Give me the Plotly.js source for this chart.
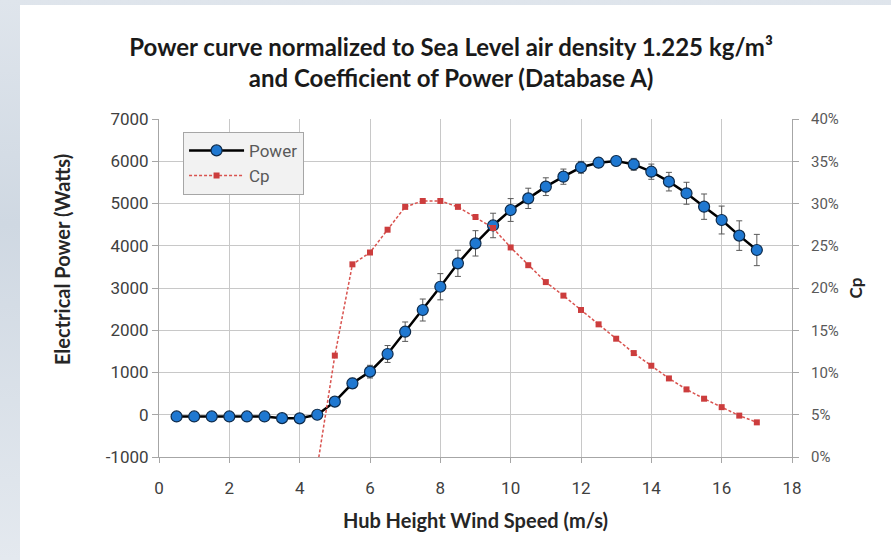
<!DOCTYPE html>
<html>
<head>
<meta charset="utf-8">
<script src="https://cdn.plot.ly/plotly-3.0.1.min.js"></script>
<style>
  html, body { margin: 0; padding: 0; width: 891px; height: 560px; overflow: hidden; }
  body { background: linear-gradient(180deg, #dfe5ec 0%, #cfd8e2 40%, #e4e9ef 100%); position: relative; }
  #chart { position: absolute; left: 20px; top: 5px; width: 871px; height: 555px; background: #fff; }
</style>
</head>
<body>
<div id="chart"></div>
<script>
// Wind speed bins (m/s)
const windSpeed = [0.5, 1, 1.5, 2, 2.5, 3, 3.5, 4, 4.5, 5, 5.5, 6, 6.5, 7, 7.5, 8, 8.5, 9, 9.5, 10,
                   10.5, 11, 11.5, 12, 12.5, 13, 13.5, 14, 14.5, 15, 15.5, 16, 16.5, 17];
// Normalized electrical power (W)
const power = [-40, -40, -40, -40, -40, -40, -80, -85, 0, 310, 744, 1020, 1438, 1966, 2479, 3030, 3584, 4057, 4480, 4846,
               5122, 5398, 5635, 5857, 5966, 6006, 5927, 5753, 5517, 5242, 4925, 4609, 4240, 3899];
// Power uncertainty (W)
const powerErr = [0, 0, 0, 0, 0, 0, 0, 0, 0, 80, 120, 150, 200, 230, 260, 310, 310, 300, 290, 270,
                  240, 210, 180, 140, 110, 110, 140, 180, 220, 260, 300, 330, 350, 370];
// Coefficient of power
const cpSpeed = [4.5, 5, 5.5, 6, 6.5, 7, 7.5, 8, 8.5, 9, 9.5, 10, 10.5, 11, 11.5, 12, 12.5, 13, 13.5,
                 14, 14.5, 15, 15.5, 16, 16.5, 17];
const cp = [-0.012, 0.12, 0.228, 0.242, 0.269, 0.296, 0.303, 0.303, 0.296, 0.284, 0.271, 0.248, 0.227,
            0.207, 0.191, 0.174, 0.157, 0.140, 0.123, 0.108, 0.093, 0.080, 0.069, 0.059, 0.049, 0.041];
// Left axis tick labels (plain hyphen minus as in the original)
const powerTicks = [-1000, 0, 1000, 2000, 3000, 4000, 5000, 6000, 7000];
const powerTickText = ['-1000', '0', '1000', '2000', '3000', '4000', '5000', '6000', '7000'];

const FONT = 'Roboto, "Open Sans", sans-serif';
const TFONT = 'Lato, Roboto, sans-serif';

const traces = [
  {
    x: windSpeed, y: power, name: 'Power', type: 'scatter', mode: 'lines+markers',
    line: { color: '#000000', width: 2.5 },
    marker: { color: '#1f78d1', size: 11, line: { color: '#0d2a4a', width: 1.2 } },
    error_y: { type: 'data', array: powerErr, visible: true, color: '#595959', thickness: 1, width: 3 },
    yaxis: 'y'
  },
  {
    x: cpSpeed, y: cp, name: 'Cp', type: 'scatter', mode: 'lines+markers',
    line: { color: '#d9534f', width: 1.5, dash: '3px,2px' },
    marker: { color: '#cc3d3d', size: 6, symbol: 'square' },
    yaxis: 'y2'
  }
];

const layout = {
  width: 871, height: 555,
  margin: { l: 139, r: 99, t: 114, b: 103 },
  paper_bgcolor: '#ffffff', plot_bgcolor: '#ffffff',
  font: { family: FONT, color: '#595959', size: 16 },
  title: {
    text: '<b>Power curve normalized to Sea Level air density 1.225 kg/m³<br>and Coefficient of Power (Database A)</b>',
    font: { family: TFONT, size: 24, color: '#1a1a1a' },
    x: 0.495, xanchor: 'center', xref: 'container',
    y: 0.908, yanchor: 'top', yref: 'container'
  },
  showlegend: true,
  legend: {
    x: 0.038, y: 0.962, xanchor: 'left', yanchor: 'top',
    bgcolor: '#f2f2f2', bordercolor: '#a6a6a6', borderwidth: 1,
    itemwidth: 55,
    font: { family: FONT, size: 17, color: '#595959' }
  },
  annotations: [{
    text: '<b>Electrical Power (Watts)</b>',
    xref: 'paper', yref: 'paper', x: -0.153, y: 0.583,
    xanchor: 'center', yanchor: 'middle', textangle: -90, showarrow: false,
    font: { family: TFONT, size: 20, color: '#262626' }
  }],
  xaxis: {
    range: [0, 18], dtick: 2, tick0: 0,
    showgrid: true, gridcolor: '#c8c8c8', gridwidth: 1,
    showline: true, linecolor: '#a6a6a6', linewidth: 1,
    ticks: 'outside', ticklen: 5, tickcolor: '#a6a6a6',
    ticklabelstandoff: 11,
    zeroline: false,
    tickfont: { family: FONT, size: 17, color: '#404040' },
    title: { text: '<b>Hub Height Wind Speed (m/s)</b>', font: { family: TFONT, size: 20, color: '#262626' }, standoff: 16 }
  },
  yaxis: {
    range: [-1000, 7000],
    tickmode: 'array', tickvals: powerTicks, ticktext: powerTickText,
    showgrid: true, gridcolor: '#c8c8c8', gridwidth: 1,
    showline: true, linecolor: '#a6a6a6', linewidth: 1,
    ticks: 'outside', ticklen: 6, tickcolor: '#a6a6a6',
    zeroline: false,
    tickfont: { family: FONT, size: 17, color: '#404040' }
  },
  yaxis2: {
    overlaying: 'y', side: 'right',
    range: [0, 0.4], dtick: 0.05, tick0: 0, tickformat: '.0%',
    showgrid: false, zeroline: false,
    showline: true, linecolor: '#a6a6a6', linewidth: 1,
    ticks: 'outside', ticklen: 6, tickcolor: '#a6a6a6',
    ticklabelstandoff: 9,
    tickfont: { family: FONT, size: 15, color: '#595959' },
    title: { text: '<b>Cp</b>', font: { family: TFONT, size: 17, color: '#262626' }, standoff: 12 }
  }
};

Plotly.newPlot('chart', traces, layout, { displayModeBar: false, staticPlot: true });
</script>
</body>
</html>
